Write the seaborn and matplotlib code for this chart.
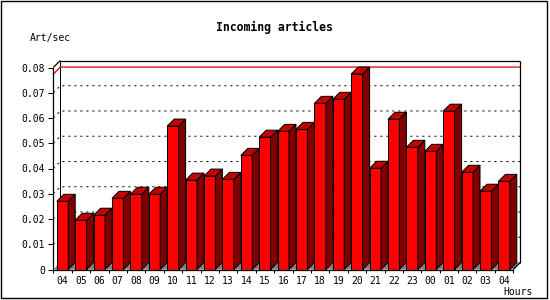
import numpy as np
import pandas as pd
import matplotlib
matplotlib.use("Agg")
import matplotlib.pyplot as plt
import seaborn as sns
from matplotlib.patches import Polygon, Rectangle

# ---- data -------------------------------------------------------------
hours = ["04", "05", "06", "07", "08", "09", "10", "11", "12", "13", "14", "15",
         "16", "17", "18", "19", "20", "21", "22", "23", "00", "01", "02", "03", "04"]
rates = [0.0270, 0.0195, 0.0215, 0.0282, 0.0298, 0.0298, 0.0568, 0.0354, 0.0370,
         0.0357, 0.0452, 0.0524, 0.0547, 0.0555, 0.0658, 0.0674, 0.0774, 0.0401,
         0.0595, 0.0484, 0.0468, 0.0627, 0.0385, 0.0310, 0.0349]
ytick_vals = [0, 0.01, 0.02, 0.03, 0.04, 0.05, 0.06, 0.07, 0.08]
ytick_labels = ["0", "0.01", "0.02", "0.03", "0.04", "0.05", "0.06", "0.07", "0.08"]
title = "Incoming articles"
ylabel = "Art/sec"
xlabel = "Hours"

# ---- geometry (pixels) ------------------------------------------------
W, H = 550, 300
px_left, px_bottom = 53.3, 269.5
ux = 18.4          # px per category
uy = 2525.0        # px per unit value
depth = 7.0        # 3D offset in px
dx, dy = depth / ux, depth / uy
n = len(rates)
xmin, xmax = -0.5, n - 0.5 + dx
ymax = 0.08 + dy

plt.rcParams["lines.scale_dashes"] = False
plt.rcParams["font.family"] = ["DejaVu Sans Mono"]

fig = plt.figure(figsize=(W / 100, H / 100), dpi=100)
ax_w = (xmax - xmin) * ux
ax_h = ymax * uy
ax = fig.add_axes([px_left / W, 1 - px_bottom / H, ax_w / W, ax_h / H])

df = pd.DataFrame({"slot": np.arange(n), "rate": rates})
sns.barplot(data=df, x="slot", y="rate", native_scale=True, width=0.62,
            color="#ff0000", saturation=1, edgecolor="black", linewidth=0.72,
            errorbar=None, ax=ax, zorder=4)

# floor
ax.add_patch(Polygon([(xmin, 0), (n - 0.5, 0), (xmax, dy), (xmin + dx, dy)],
                     closed=True, facecolor="#808080", edgecolor="none", zorder=1,
                     clip_on=False))

# gridlines on back wall (with diagonal from the front axis)
for v in ytick_vals[1:-1]:
    ax.plot([xmin, xmin + dx, xmax], [v, v + dy, v + dy], color="black",
            lw=0.72, linestyle=(0, (1.44, 2.88)), zorder=2, clip_on=False)

# max line
vmax = max(rates)
ax.plot([xmin, xmin + dx, xmax], [vmax, vmax + dy, vmax + dy], color="#e00000",
        lw=0.9, zorder=2.5, clip_on=False)

# 3D faces of bars
for p in list(ax.patches):
    if not isinstance(p, Rectangle):
        continue
    x0, w, h = p.get_x(), p.get_width(), p.get_height()
    side = Polygon([(x0 + w, 0), (x0 + w + dx, dy), (x0 + w + dx, h + dy), (x0 + w, h)],
                   closed=True, facecolor="#800000", edgecolor="black", lw=0.72,
                   zorder=4, clip_on=False)
    top = Polygon([(x0, h), (x0 + dx, h + dy), (x0 + w + dx, h + dy), (x0 + w, h)],
                  closed=True, facecolor="#c40000", edgecolor="black", lw=0.72,
                  zorder=4, clip_on=False)
    ax.add_patch(side)
    ax.add_patch(top)

# frame lines
frame_kw = dict(color="black", lw=0.9, zorder=5, clip_on=False, solid_capstyle="butt")
ax.plot([xmin, xmin + dx], [0.08, ymax], **frame_kw)
ax.plot([xmin + dx, xmin + dx], [dy, ymax], color="black", lw=0.72, zorder=1.5, clip_on=False)
ax.plot([xmin + dx, xmax], [ymax, ymax], **frame_kw)
ax.plot([xmax, xmax], [dy, ymax], **frame_kw)
ax.plot([n - 0.5, xmax], [0, dy], **frame_kw)

ax.set_xlim(xmin, xmax)
ax.set_ylim(0, ymax)
ax.set_facecolor("none")
for s in ["top", "right"]:
    ax.spines[s].set_visible(False)
for s in ["left", "bottom"]:
    ax.spines[s].set_linewidth(0.9)
    ax.spines[s].set_color("black")
    ax.spines[s].set_zorder(6)
ax.spines["left"].set_bounds(0, 0.08)
ax.spines["bottom"].set_bounds(-0.5, n - 0.5)

ax.set_yticks(ytick_vals)
ax.set_yticklabels(ytick_labels)
ax.tick_params(axis="y", length=3.6, width=0.72, pad=2.2, labelsize=7, direction="out")
ax.set_xticks(np.arange(n))
ax.set_xticklabels(hours)
ax.set_xticks(np.arange(n + 1) - 0.5, minor=True)
ax.tick_params(axis="x", which="major", length=0, pad=4.5, labelsize=7)
ax.tick_params(axis="x", which="minor", length=2.2, width=0.72, direction="out")
ax.set_xlabel("")
ax.set_ylabel("")

fig.text(274.5 / W, 1 - 27 / H, title, ha="center", va="center",
         fontsize=8.3, fontweight="bold")
fig.text(30 / W, 1 - 38 / H, ylabel, ha="left", va="center", fontsize=7)
fig.text(503 / W, 1 - 292 / H, xlabel, ha="left", va="center", fontsize=7)

fig.add_artist(Rectangle((0.5 / W, 1 - 298 / H), 546 / W, 297.5 / H,
                         transform=fig.transFigure, fill=False, edgecolor="black",
                         lw=1.0))

fig.savefig("out.png", dpi=100)
